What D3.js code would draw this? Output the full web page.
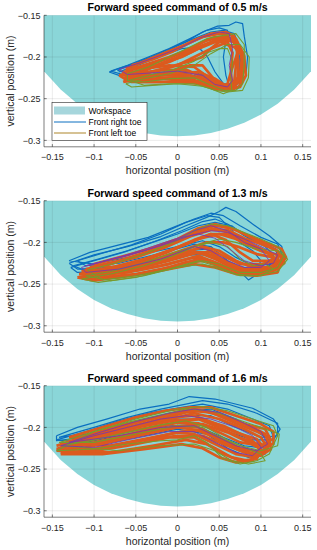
<!DOCTYPE html>
<html><head><meta charset="utf-8">
<script src="https://cdn.jsdelivr.net/npm/d3@7"></script>
<style>
html,body{margin:0;padding:0;background:#fff;}
svg{display:block;font-family:"Liberation Sans",Arial,Helvetica,sans-serif;}
</style></head>
<body>
<svg id="chart" width="317" height="550"></svg>
<script>
// ---------- data ----------
const panelTitles = ["Forward speed command of 0.5 m/s","Forward speed command of 1.3 m/s","Forward speed command of 1.6 m/s"];
const xTicks = [-0.15,-0.1,-0.05,0,0.05,0.1,0.15];
const xTickLabels = ["\u22120.15","\u22120.1","\u22120.05","0","0.05","0.1","0.15"];
const yTicks = [-0.3,-0.25,-0.2,-0.15];
const yTickLabels = ["\u22120.3","\u22120.25","\u22120.2","\u22120.15"];
const xLabel = "horizontal position (m)";
const yLabel = "vertical position (m)";
const legendLabels = ["Workspace","Front right toe","Front left toe"];

// workspace boundary (lower arc), x and y
const workspaceX = [-0.17,-0.16,-0.14,-0.12,-0.10,-0.08,-0.06,-0.04,-0.02,0,0.02,0.04,0.06,0.08,0.10,0.12,0.14,0.16,0.17];
const workspaceY = [-0.203,-0.217,-0.239,-0.256,-0.269,-0.279,-0.286,-0.291,-0.294,-0.295,-0.294,-0.291,-0.286,-0.279,-0.269,-0.256,-0.239,-0.217,-0.203];

// ---- 0.5 m/s ----
const p1Blue = [
 [[-0.082,-0.218],[-0.065,-0.212],[-0.04,-0.204],[-0.015,-0.194],[0.01,-0.182],[0.03,-0.17],[0.048,-0.163],[0.062,-0.162],[0.07,-0.158],[0.078,-0.16],[0.08,-0.175],[0.084,-0.2],[0.082,-0.222],[0.07,-0.234],[0.05,-0.232],[0.04,-0.225],[0.02,-0.218],[-0.01,-0.218],[-0.04,-0.222],[-0.07,-0.222],[-0.082,-0.218]],
 [[-0.08,-0.217],[-0.06,-0.21],[-0.035,-0.2],[-0.01,-0.19],[0.015,-0.178],[0.035,-0.168],[0.05,-0.165],[0.06,-0.168],[0.058,-0.18],[0.055,-0.2],[0.058,-0.222],[0.062,-0.236],[0.05,-0.236],[0.035,-0.226],[0.01,-0.22],[-0.02,-0.22],[-0.055,-0.224],[-0.08,-0.217]],
 [[-0.072,-0.216],[-0.05,-0.207],[-0.025,-0.197],[0,-0.186],[0.02,-0.178],[0.04,-0.17],[0.055,-0.168],[0.068,-0.172],[0.075,-0.19],[0.076,-0.212],[0.07,-0.23],[0.058,-0.238],[0.045,-0.232],[0.03,-0.222],[0,-0.215],[-0.03,-0.217],[-0.06,-0.22],[-0.072,-0.216]],
 [[-0.07,-0.218],[-0.045,-0.209],[-0.02,-0.199],[0.005,-0.19],[0.025,-0.188],[0.036,-0.2],[0.045,-0.218],[0.055,-0.232],[0.066,-0.236],[0.074,-0.222],[0.074,-0.198],[0.068,-0.18],[0.055,-0.172],[0.035,-0.174],[0.01,-0.186],[-0.03,-0.202],[-0.07,-0.218]]
];
const p1Purple = [
 [[-0.07,-0.215],[-0.045,-0.207],[-0.02,-0.198],[0.005,-0.188],[0.03,-0.176],[0.05,-0.17],[0.062,-0.172],[0.066,-0.19],[0.062,-0.21],[0.066,-0.228],[0.06,-0.236],[0.045,-0.233],[0.03,-0.222],[0,-0.217],[-0.03,-0.219],[-0.06,-0.221],[-0.07,-0.215]]
];
const p1Orange = [
 [[-0.065,-0.218],[-0.04,-0.212],[-0.015,-0.203],[0.01,-0.193],[0.03,-0.182],[0.045,-0.176],[0.06,-0.176],[0.07,-0.185],[0.073,-0.205],[0.072,-0.225],[0.062,-0.236],[0.048,-0.236],[0.035,-0.228],[0.015,-0.222],[-0.015,-0.222],[-0.045,-0.224],[-0.065,-0.222],[-0.065,-0.218]],
 [[-0.06,-0.222],[-0.035,-0.214],[-0.01,-0.206],[0.015,-0.195],[0.035,-0.185],[0.05,-0.18],[0.065,-0.18],[0.075,-0.19],[0.078,-0.21],[0.075,-0.228],[0.065,-0.238],[0.05,-0.238],[0.035,-0.232],[0.015,-0.226],[-0.015,-0.226],[-0.04,-0.228],[-0.06,-0.226],[-0.06,-0.222]],
 [[-0.062,-0.214],[-0.04,-0.205],[-0.015,-0.195],[0.01,-0.185],[0.03,-0.176],[0.05,-0.172],[0.065,-0.174],[0.072,-0.19],[0.07,-0.21],[0.068,-0.23],[0.058,-0.235],[0.045,-0.23],[0.03,-0.224],[0.01,-0.215],[-0.02,-0.216],[-0.05,-0.22],[-0.062,-0.214]],
 [[-0.058,-0.225],[-0.03,-0.218],[0,-0.21],[0.02,-0.2],[0.04,-0.19],[0.055,-0.184],[0.068,-0.188],[0.08,-0.2],[0.082,-0.222],[0.075,-0.236],[0.06,-0.24],[0.042,-0.238],[0.03,-0.23],[0.01,-0.228],[-0.02,-0.23],[-0.045,-0.23],[-0.058,-0.225]],
 [[-0.055,-0.21],[-0.03,-0.203],[-0.005,-0.193],[0.02,-0.18],[0.04,-0.172],[0.058,-0.17],[0.068,-0.175],[0.072,-0.195],[0.065,-0.215],[0.06,-0.232],[0.05,-0.236],[0.038,-0.225],[0.02,-0.212],[-0.01,-0.21],[-0.04,-0.214],[-0.055,-0.21]],
 [[-0.064,-0.226],[-0.04,-0.22],[-0.01,-0.212],[0.015,-0.205],[0.03,-0.2],[0.04,-0.19],[0.055,-0.178],[0.07,-0.178],[0.078,-0.195],[0.075,-0.22],[0.068,-0.234],[0.055,-0.236],[0.04,-0.236],[0.025,-0.232],[0,-0.23],[-0.03,-0.23],[-0.055,-0.23],[-0.064,-0.226]],
 [[-0.07,-0.222],[-0.045,-0.216],[-0.02,-0.208],[0.005,-0.2],[0.025,-0.19],[0.045,-0.182],[0.06,-0.182],[0.066,-0.195],[0.064,-0.215],[0.065,-0.232],[0.055,-0.238],[0.04,-0.232],[0.025,-0.225],[0,-0.224],[-0.03,-0.226],[-0.06,-0.228],[-0.07,-0.222]],
 [[-0.06,-0.216],[-0.035,-0.208],[-0.01,-0.2],[0.015,-0.19],[0.035,-0.18],[0.055,-0.176],[0.07,-0.18],[0.08,-0.198],[0.078,-0.218],[0.07,-0.232],[0.06,-0.236],[0.045,-0.226],[0.025,-0.218],[0,-0.219],[-0.03,-0.222],[-0.06,-0.222],[-0.06,-0.216]],
 [[-0.065,-0.23],[-0.04,-0.226],[-0.01,-0.218],[0.015,-0.21],[0.03,-0.21],[0.04,-0.222],[0.05,-0.234],[0.062,-0.24],[0.074,-0.235],[0.08,-0.215],[0.078,-0.195],[0.068,-0.182],[0.05,-0.178],[0.03,-0.186],[0,-0.2],[-0.03,-0.212],[-0.065,-0.23]]
];
const p1Green = [
 [[-0.062,-0.232],[-0.04,-0.226],[-0.01,-0.22],[0.02,-0.21],[0.04,-0.196],[0.06,-0.185],[0.075,-0.185],[0.086,-0.2],[0.085,-0.225],[0.078,-0.24],[0.06,-0.242],[0.045,-0.24],[0.03,-0.235],[0,-0.232],[-0.03,-0.234],[-0.055,-0.236],[-0.062,-0.232]],
 [[-0.06,-0.22],[-0.035,-0.212],[-0.01,-0.2],[0.015,-0.188],[0.035,-0.178],[0.05,-0.175],[0.07,-0.172],[0.08,-0.185],[0.08,-0.21],[0.078,-0.232],[0.07,-0.24],[0.055,-0.24],[0.04,-0.234],[0.02,-0.225],[-0.01,-0.226],[-0.04,-0.23],[-0.06,-0.228],[-0.06,-0.22]],
 [[-0.058,-0.228],[-0.035,-0.222],[-0.005,-0.215],[0.02,-0.205],[0.035,-0.195],[0.05,-0.19],[0.06,-0.19],[0.066,-0.205],[0.064,-0.225],[0.065,-0.24],[0.055,-0.244],[0.04,-0.238],[0.02,-0.232],[-0.01,-0.232],[-0.04,-0.234],[-0.058,-0.228]]
];

// ---- 1.3 m/s ----
const p2Blue = [
 [[-0.13,-0.225],[-0.1,-0.215],[-0.06,-0.205],[-0.02,-0.193],[0.01,-0.18],[0.035,-0.17],[0.05,-0.163],[0.058,-0.158],[0.07,-0.163],[0.09,-0.178],[0.11,-0.192],[0.125,-0.205],[0.128,-0.218],[0.115,-0.23],[0.09,-0.236],[0.065,-0.228],[0.04,-0.215],[0.015,-0.215],[-0.03,-0.224],[-0.08,-0.232],[-0.12,-0.232],[-0.13,-0.225]],
 [[-0.125,-0.228],[-0.095,-0.22],[-0.06,-0.21],[-0.025,-0.198],[0.005,-0.186],[0.03,-0.175],[0.045,-0.172],[0.06,-0.178],[0.08,-0.192],[0.1,-0.2],[0.118,-0.208],[0.12,-0.22],[0.105,-0.232],[0.085,-0.245],[0.075,-0.235],[0.06,-0.225],[0.035,-0.208],[0.01,-0.21],[-0.03,-0.22],[-0.08,-0.23],[-0.115,-0.232],[-0.125,-0.228]],
 [[-0.12,-0.222],[-0.09,-0.213],[-0.055,-0.203],[-0.02,-0.19],[0.01,-0.176],[0.035,-0.168],[0.05,-0.17],[0.065,-0.185],[0.075,-0.2],[0.09,-0.21],[0.1,-0.222],[0.095,-0.232],[0.08,-0.232],[0.06,-0.222],[0.04,-0.205],[0.02,-0.202],[-0.02,-0.213],[-0.07,-0.225],[-0.11,-0.228],[-0.12,-0.222]],
 [[-0.128,-0.23],[-0.1,-0.222],[-0.065,-0.212],[-0.03,-0.2],[0,-0.19],[0.025,-0.18],[0.045,-0.176],[0.065,-0.18],[0.085,-0.195],[0.105,-0.205],[0.115,-0.215],[0.11,-0.228],[0.09,-0.232],[0.07,-0.228],[0.05,-0.218],[0.03,-0.212],[0,-0.218],[-0.04,-0.228],[-0.09,-0.235],[-0.12,-0.236],[-0.128,-0.23]],
 [[-0.13,-0.222],[-0.105,-0.212],[-0.07,-0.203],[-0.035,-0.194],[-0.005,-0.182],[0.02,-0.172],[0.04,-0.165],[0.055,-0.168],[0.075,-0.18],[0.1,-0.194],[0.12,-0.202],[0.125,-0.214],[0.11,-0.226],[0.09,-0.228],[0.07,-0.218],[0.05,-0.205],[0.03,-0.198],[0,-0.205],[-0.05,-0.216],[-0.1,-0.226],[-0.13,-0.222]]
];
const p2Purple = [
 [[-0.115,-0.23],[-0.08,-0.22],[-0.04,-0.21],[-0.005,-0.198],[0.02,-0.186],[0.04,-0.18],[0.06,-0.186],[0.08,-0.2],[0.1,-0.208],[0.11,-0.222],[0.1,-0.23],[0.08,-0.23],[0.06,-0.222],[0.04,-0.21],[0.02,-0.205],[-0.02,-0.22],[-0.07,-0.232],[-0.11,-0.236],[-0.115,-0.23]],
 [[-0.11,-0.228],[-0.07,-0.218],[-0.03,-0.205],[0,-0.195],[0.025,-0.19],[0.045,-0.195],[0.065,-0.21],[0.08,-0.222],[0.1,-0.228],[0.115,-0.225],[0.12,-0.215],[0.1,-0.205],[0.08,-0.196],[0.06,-0.188],[0.04,-0.186],[0.015,-0.192],[-0.02,-0.204],[-0.06,-0.216],[-0.11,-0.228]]
];
const p2Orange = [
 [[-0.115,-0.235],[-0.09,-0.228],[-0.05,-0.218],[-0.015,-0.206],[0.015,-0.193],[0.04,-0.185],[0.06,-0.185],[0.08,-0.195],[0.1,-0.202],[0.12,-0.21],[0.125,-0.22],[0.115,-0.23],[0.09,-0.236],[0.065,-0.232],[0.04,-0.222],[0.02,-0.218],[-0.02,-0.228],[-0.06,-0.236],[-0.1,-0.24],[-0.115,-0.235]],
 [[-0.11,-0.232],[-0.08,-0.226],[-0.045,-0.215],[-0.01,-0.203],[0.02,-0.19],[0.045,-0.183],[0.065,-0.19],[0.085,-0.2],[0.105,-0.21],[0.118,-0.22],[0.112,-0.232],[0.09,-0.236],[0.07,-0.232],[0.045,-0.22],[0.025,-0.212],[-0.01,-0.222],[-0.05,-0.232],[-0.09,-0.238],[-0.11,-0.232]],
 [[-0.113,-0.24],[-0.085,-0.233],[-0.05,-0.224],[-0.015,-0.213],[0.015,-0.2],[0.04,-0.19],[0.06,-0.19],[0.08,-0.2],[0.1,-0.21],[0.12,-0.215],[0.122,-0.228],[0.105,-0.236],[0.08,-0.237],[0.055,-0.23],[0.035,-0.222],[0.01,-0.224],[-0.03,-0.236],[-0.07,-0.242],[-0.105,-0.244],[-0.113,-0.24]],
 [[-0.105,-0.23],[-0.07,-0.222],[-0.035,-0.211],[0,-0.198],[0.025,-0.186],[0.045,-0.18],[0.065,-0.183],[0.085,-0.192],[0.105,-0.2],[0.125,-0.208],[0.13,-0.218],[0.12,-0.232],[0.095,-0.238],[0.07,-0.234],[0.045,-0.224],[0.025,-0.216],[-0.01,-0.226],[-0.05,-0.234],[-0.09,-0.236],[-0.105,-0.23]],
 [[-0.11,-0.236],[-0.075,-0.229],[-0.04,-0.22],[-0.005,-0.208],[0.025,-0.196],[0.05,-0.19],[0.07,-0.196],[0.09,-0.206],[0.11,-0.214],[0.12,-0.224],[0.11,-0.232],[0.085,-0.234],[0.06,-0.226],[0.04,-0.215],[0.02,-0.212],[-0.015,-0.222],[-0.055,-0.232],[-0.095,-0.24],[-0.11,-0.236]],
 [[-0.112,-0.238],[-0.08,-0.232],[-0.045,-0.222],[-0.01,-0.21],[0.02,-0.197],[0.04,-0.19],[0.058,-0.197],[0.075,-0.212],[0.09,-0.222],[0.11,-0.222],[0.125,-0.215],[0.128,-0.225],[0.115,-0.234],[0.09,-0.238],[0.065,-0.236],[0.045,-0.226],[0.025,-0.22],[-0.01,-0.23],[-0.05,-0.238],[-0.095,-0.242],[-0.112,-0.238]],
 [[-0.118,-0.238],[-0.09,-0.234],[-0.05,-0.226],[-0.02,-0.218],[0.01,-0.208],[0.035,-0.2],[0.055,-0.2],[0.075,-0.206],[0.095,-0.214],[0.115,-0.218],[0.12,-0.226],[0.105,-0.232],[0.08,-0.232],[0.06,-0.224],[0.04,-0.212],[0.02,-0.212],[-0.015,-0.222],[-0.06,-0.232],[-0.1,-0.24],[-0.118,-0.238]],
 [[-0.1,-0.226],[-0.07,-0.218],[-0.035,-0.208],[0,-0.196],[0.025,-0.183],[0.045,-0.178],[0.07,-0.185],[0.09,-0.195],[0.11,-0.205],[0.122,-0.212],[0.118,-0.222],[0.1,-0.226],[0.075,-0.226],[0.05,-0.214],[0.03,-0.206],[0,-0.214],[-0.04,-0.224],[-0.08,-0.23],[-0.1,-0.226]],
 [[-0.12,-0.242],[-0.09,-0.238],[-0.055,-0.23],[-0.02,-0.222],[0.01,-0.212],[0.03,-0.205],[0.05,-0.21],[0.07,-0.222],[0.09,-0.23],[0.11,-0.23],[0.125,-0.222],[0.12,-0.236],[0.095,-0.24],[0.07,-0.238],[0.045,-0.23],[0.02,-0.226],[-0.02,-0.234],[-0.06,-0.24],[-0.1,-0.246],[-0.12,-0.242]]
];
const p2Green = [
 [[-0.115,-0.244],[-0.08,-0.238],[-0.04,-0.228],[-0.005,-0.216],[0.025,-0.203],[0.05,-0.196],[0.07,-0.2],[0.095,-0.208],[0.12,-0.21],[0.132,-0.22],[0.12,-0.235],[0.095,-0.24],[0.07,-0.238],[0.045,-0.228],[0.025,-0.222],[-0.01,-0.232],[-0.05,-0.242],[-0.095,-0.248],[-0.115,-0.244]],
 [[-0.108,-0.233],[-0.075,-0.225],[-0.04,-0.214],[-0.005,-0.2],[0.02,-0.186],[0.04,-0.178],[0.06,-0.18],[0.08,-0.188],[0.1,-0.196],[0.12,-0.205],[0.128,-0.215],[0.12,-0.23],[0.1,-0.236],[0.075,-0.236],[0.05,-0.226],[0.03,-0.222],[-0.01,-0.232],[-0.05,-0.24],[-0.09,-0.245],[-0.108,-0.233]],
 [[-0.11,-0.24],[-0.08,-0.235],[-0.045,-0.226],[-0.01,-0.214],[0.02,-0.205],[0.04,-0.2],[0.06,-0.205],[0.075,-0.22],[0.09,-0.228],[0.105,-0.226],[0.115,-0.232],[0.1,-0.24],[0.075,-0.24],[0.05,-0.232],[0.03,-0.226],[0,-0.23],[-0.04,-0.24],[-0.08,-0.246],[-0.11,-0.24]]
];

// ---- 1.6 m/s ----
const p3Blue = [
 [[-0.145,-0.21],[-0.12,-0.2],[-0.085,-0.19],[-0.045,-0.178],[-0.01,-0.172],[0.014,-0.163],[0.045,-0.166],[0.09,-0.177],[0.115,-0.19],[0.123,-0.202],[0.115,-0.215],[0.09,-0.215],[0.06,-0.205],[0.03,-0.19],[0,-0.19],[-0.05,-0.2],[-0.1,-0.21],[-0.145,-0.216],[-0.145,-0.21]],
 [[-0.145,-0.215],[-0.11,-0.205],[-0.07,-0.192],[-0.03,-0.182],[0.005,-0.176],[0.03,-0.172],[0.06,-0.178],[0.09,-0.19],[0.11,-0.198],[0.115,-0.212],[0.105,-0.225],[0.08,-0.222],[0.05,-0.21],[0.02,-0.197],[-0.01,-0.198],[-0.06,-0.208],[-0.11,-0.218],[-0.145,-0.215]],
 [[-0.14,-0.22],[-0.1,-0.208],[-0.06,-0.196],[-0.02,-0.186],[0.01,-0.18],[0.04,-0.178],[0.07,-0.19],[0.095,-0.205],[0.11,-0.215],[0.105,-0.232],[0.085,-0.236],[0.06,-0.225],[0.035,-0.208],[0,-0.202],[-0.05,-0.212],[-0.1,-0.222],[-0.14,-0.22]],
 [[-0.142,-0.212],[-0.1,-0.2],[-0.06,-0.188],[-0.02,-0.178],[0.01,-0.172],[0.03,-0.168],[0.06,-0.172],[0.095,-0.183],[0.12,-0.195],[0.12,-0.21],[0.1,-0.212],[0.07,-0.2],[0.04,-0.186],[0.01,-0.186],[-0.04,-0.196],[-0.09,-0.206],[-0.142,-0.212]]
];
const p3Purple = [
 [[-0.14,-0.222],[-0.1,-0.21],[-0.06,-0.2],[-0.02,-0.19],[0.01,-0.186],[0.04,-0.19],[0.07,-0.2],[0.09,-0.21],[0.1,-0.224],[0.09,-0.234],[0.07,-0.23],[0.045,-0.218],[0.02,-0.205],[-0.01,-0.205],[-0.06,-0.215],[-0.1,-0.224],[-0.14,-0.222]],
 [[-0.13,-0.218],[-0.09,-0.205],[-0.05,-0.193],[-0.01,-0.183],[0.02,-0.178],[0.05,-0.182],[0.08,-0.195],[0.1,-0.205],[0.108,-0.22],[0.095,-0.228],[0.07,-0.222],[0.045,-0.21],[0.02,-0.198],[-0.02,-0.2],[-0.07,-0.21],[-0.13,-0.218]]
];
const p3Orange = [
 [[-0.145,-0.226],[-0.11,-0.215],[-0.07,-0.205],[-0.03,-0.195],[0,-0.188],[0.02,-0.183],[0.05,-0.19],[0.08,-0.202],[0.1,-0.212],[0.108,-0.225],[0.095,-0.236],[0.07,-0.232],[0.045,-0.22],[0.02,-0.208],[0,-0.206],[-0.05,-0.217],[-0.1,-0.226],[-0.145,-0.226]],
 [[-0.14,-0.224],[-0.1,-0.212],[-0.06,-0.2],[-0.02,-0.19],[0.01,-0.182],[0.03,-0.18],[0.06,-0.188],[0.09,-0.2],[0.105,-0.208],[0.11,-0.222],[0.1,-0.23],[0.075,-0.225],[0.05,-0.212],[0.025,-0.2],[0,-0.198],[-0.05,-0.208],[-0.1,-0.218],[-0.14,-0.224]],
 [[-0.145,-0.228],[-0.105,-0.22],[-0.065,-0.21],[-0.025,-0.2],[0.005,-0.193],[0.025,-0.19],[0.055,-0.198],[0.08,-0.21],[0.095,-0.22],[0.1,-0.232],[0.085,-0.24],[0.065,-0.236],[0.045,-0.225],[0.02,-0.212],[-0.01,-0.212],[-0.06,-0.222],[-0.11,-0.23],[-0.145,-0.228]],
 [[-0.135,-0.22],[-0.095,-0.208],[-0.055,-0.196],[-0.015,-0.186],[0.015,-0.18],[0.04,-0.182],[0.07,-0.195],[0.095,-0.205],[0.11,-0.212],[0.112,-0.226],[0.1,-0.234],[0.08,-0.23],[0.055,-0.218],[0.03,-0.204],[0,-0.2],[-0.05,-0.21],[-0.1,-0.22],[-0.135,-0.22]],
 [[-0.14,-0.23],[-0.1,-0.222],[-0.06,-0.213],[-0.02,-0.204],[0.005,-0.198],[0.03,-0.196],[0.06,-0.206],[0.085,-0.218],[0.1,-0.226],[0.095,-0.238],[0.075,-0.24],[0.055,-0.232],[0.035,-0.22],[0.01,-0.215],[-0.03,-0.222],[-0.08,-0.23],[-0.14,-0.23]],
 [[-0.13,-0.212],[-0.09,-0.2],[-0.05,-0.188],[-0.015,-0.18],[0.015,-0.176],[0.04,-0.176],[0.07,-0.186],[0.1,-0.196],[0.115,-0.205],[0.115,-0.22],[0.1,-0.222],[0.075,-0.212],[0.05,-0.2],[0.025,-0.19],[-0.005,-0.192],[-0.05,-0.2],[-0.1,-0.21],[-0.13,-0.212]],
 [[-0.145,-0.222],[-0.11,-0.21],[-0.07,-0.198],[-0.03,-0.189],[0,-0.182],[0.02,-0.178],[0.05,-0.184],[0.08,-0.196],[0.105,-0.202],[0.112,-0.215],[0.1,-0.222],[0.075,-0.218],[0.05,-0.206],[0.025,-0.195],[0,-0.194],[-0.05,-0.203],[-0.1,-0.214],[-0.145,-0.222]],
 [[-0.14,-0.232],[-0.1,-0.226],[-0.06,-0.218],[-0.02,-0.21],[0.005,-0.205],[0.025,-0.204],[0.05,-0.214],[0.075,-0.226],[0.09,-0.232],[0.09,-0.24],[0.07,-0.242],[0.05,-0.236],[0.03,-0.225],[0.005,-0.22],[-0.04,-0.226],[-0.09,-0.232],[-0.14,-0.232]],
 [[-0.12,-0.218],[-0.08,-0.206],[-0.04,-0.196],[-0.005,-0.188],[0.02,-0.186],[0.045,-0.195],[0.07,-0.206],[0.095,-0.214],[0.105,-0.226],[0.095,-0.232],[0.075,-0.228],[0.05,-0.218],[0.03,-0.21],[0,-0.21],[-0.04,-0.215],[-0.08,-0.222],[-0.12,-0.218]]
];
const p3Green = [
 [[-0.145,-0.228],[-0.1,-0.226],[-0.06,-0.22],[-0.02,-0.216],[0,-0.215],[0.02,-0.21],[0.035,-0.218],[0.055,-0.238],[0.075,-0.244],[0.095,-0.24],[0.11,-0.232],[0.12,-0.21],[0.115,-0.198],[0.09,-0.19],[0.06,-0.18],[0.03,-0.175],[0,-0.178],[-0.05,-0.19],[-0.1,-0.205],[-0.145,-0.228]],
 [[-0.138,-0.222],[-0.1,-0.215],[-0.06,-0.206],[-0.02,-0.197],[0.01,-0.192],[0.035,-0.2],[0.06,-0.215],[0.085,-0.226],[0.1,-0.232],[0.105,-0.24],[0.085,-0.244],[0.065,-0.24],[0.045,-0.228],[0.02,-0.22],[-0.02,-0.222],[-0.07,-0.228],[-0.138,-0.222]],
 [[-0.142,-0.218],[-0.1,-0.205],[-0.06,-0.194],[-0.02,-0.185],[0.01,-0.178],[0.04,-0.18],[0.07,-0.19],[0.1,-0.2],[0.122,-0.208],[0.12,-0.222],[0.1,-0.228],[0.075,-0.222],[0.05,-0.212],[0.03,-0.2],[0,-0.198],[-0.05,-0.208],[-0.1,-0.218],[-0.142,-0.218]]
];

const panelTraces = [
  {blue:p1Blue, purple:p1Purple, orange:p1Orange, green:p1Green},
  {blue:p2Blue, purple:p2Purple, orange:p2Orange, green:p2Green},
  {blue:p3Blue, purple:p3Purple, orange:p3Orange, green:p3Green}
];

// ---------- styles ----------
const C = {
  workspace:"#8ad6d8", legendPatch:"#a6d6dc",
  blue:"#0a6fc0", purple:"#7e38a8", orange:"#dc5a1e", green:"#789a2c",
  legendLeft:"#c4a866", axis:"#262626", grid:"rgba(38,38,38,0.15)"
};
const plotL = 44, plotR = 311, plotH = 131.5;
const panelTops = [15.3, 200.7, 385.7];

const svg = d3.select("#chart");
const x = d3.scaleLinear().domain([-0.16,0.16]).range([plotL,plotR]);

panelTops.forEach((top,i) => {
  const y = d3.scaleLinear().domain([-0.3077,-0.15]).range([top+plotH, top]);
  const g = svg.append("g");
  const clipId = "clip"+i;
  svg.append("defs").append("clipPath").attr("id",clipId)
    .append("rect").attr("x",plotL).attr("y",top).attr("width",plotR-plotL).attr("height",plotH);

  // workspace polygon
  const ws = workspaceX.map((v,k)=>[v,workspaceY[k]]);
  const poly = [[workspaceX[0],-0.14]].concat(ws).concat([[workspaceX[workspaceX.length-1],-0.14]]);
  g.append("path").attr("clip-path",`url(#${clipId})`)
    .attr("d", d3.line().x(d=>x(d[0])).y(d=>y(d[1]))(poly)+"Z")
    .attr("fill",C.workspace);

  // grid
  const grid = g.append("g").attr("clip-path",`url(#${clipId})`);
  xTicks.forEach(t=>grid.append("line").attr("x1",x(t)).attr("x2",x(t)).attr("y1",top).attr("y2",top+plotH)
    .attr("stroke",C.grid).attr("stroke-width",0.6));
  yTicks.forEach(t=>grid.append("line").attr("x1",plotL).attr("x2",plotR).attr("y1",y(t)).attr("y2",y(t))
    .attr("stroke",C.grid).attr("stroke-width",0.6));

  // traces
  const line = d3.line().x(d=>x(d[0])).y(d=>y(d[1]));
  const tg = g.append("g").attr("clip-path",`url(#${clipId})`).attr("fill","none").attr("stroke-linejoin","round");
  const tr = panelTraces[i];
  const draw = (arr,col,w)=>arr.forEach(t=>tg.append("path").attr("d",line(t)).attr("stroke",col).attr("stroke-width",w));
  draw(tr.blue, C.blue, 1.2);
  draw(tr.orange, C.orange, 2.7);
  draw(tr.green, C.green, 1.1);
  draw(tr.purple, C.purple, 0.9);

  // axes
  const ax = g.append("g");
  ax.append("line").attr("x1",plotL).attr("x2",plotR).attr("y1",top+plotH).attr("y2",top+plotH).attr("stroke",C.axis).attr("stroke-width",0.6);
  ax.append("line").attr("x1",plotL).attr("x2",plotL).attr("y1",top).attr("y2",top+plotH).attr("stroke",C.axis).attr("stroke-width",0.6);
  xTicks.forEach((t,k)=>{
    ax.append("line").attr("x1",x(t)).attr("x2",x(t)).attr("y1",top+plotH).attr("y2",top+plotH-2.7).attr("stroke",C.axis).attr("stroke-width",0.6);
    ax.append("text").attr("x",x(t)).attr("y",top+plotH+13.5).attr("text-anchor","middle")
      .attr("font-size",9).attr("fill",C.axis).text(xTickLabels[k]);
  });
  yTicks.forEach((t,k)=>{
    ax.append("line").attr("x1",plotL).attr("x2",plotL+2.7).attr("y1",y(t)).attr("y2",y(t)).attr("stroke",C.axis).attr("stroke-width",0.6);
    ax.append("text").attr("x",plotL-3.5).attr("y",y(t)+3.2).attr("text-anchor","end")
      .attr("font-size",9).attr("fill",C.axis).text(yTickLabels[k]);
  });
  ax.append("text").attr("x",(plotL+plotR)/2).attr("y",top+plotH+27.5).attr("text-anchor","middle")
    .attr("font-size",10.5).attr("fill",C.axis).text(xLabel);
  ax.append("text").attr("transform",`translate(14,${top+plotH/2}) rotate(-90)`).attr("text-anchor","middle")
    .attr("font-size",10.5).attr("fill",C.axis).text(yLabel);
  ax.append("text").attr("x",(plotL+plotR)/2).attr("y",top-4).attr("text-anchor","middle")
    .attr("font-size",10.6).attr("font-weight","bold").attr("fill","#000").text(panelTitles[i]);

  // legend (first panel only)
  if(i===0){
    const lg = g.append("g");
    lg.append("rect").attr("x",52).attr("y",102.5).attr("width",95).attr("height",38)
      .attr("fill","#fff").attr("stroke",C.axis).attr("stroke-width",0.6);
    const rows = [110.5,122,133];
    lg.append("rect").attr("x",54).attr("y",rows[0]-4).attr("width",31).attr("height",8).attr("fill",C.legendPatch);
    lg.append("line").attr("x1",54).attr("x2",86).attr("y1",rows[1]).attr("y2",rows[1]).attr("stroke",C.blue).attr("stroke-width",1);
    lg.append("line").attr("x1",54).attr("x2",86).attr("y1",rows[2]).attr("y2",rows[2]).attr("stroke",C.legendLeft).attr("stroke-width",1.4);
    legendLabels.forEach((s,k)=>lg.append("text").attr("x",88.5).attr("y",rows[k]+3).attr("font-size",8.5).attr("fill","#000").text(s));
  }
});
</script>
</body></html>
